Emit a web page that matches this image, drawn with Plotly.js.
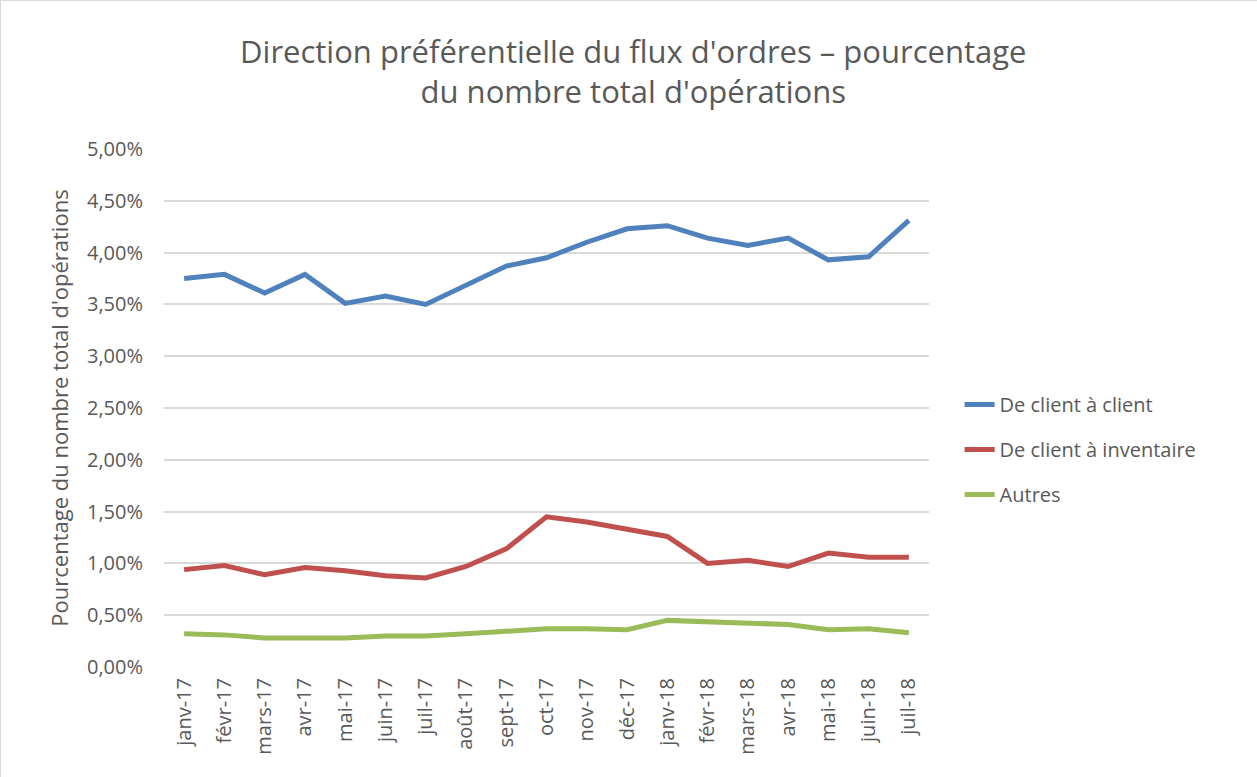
<!DOCTYPE html>
<html>
<head>
<meta charset="utf-8">
<script src="https://cdn.plot.ly/plotly-3.0.1.min.js"></script>
<style>
  html, body { margin: 0; padding: 0; background: #fff; }
  #chart { width: 1257px; height: 777px; box-sizing: border-box; border: 1px solid #d9d9d9; }
</style>
</head>
<body>
<div id="chart"></div>
<script>
// mois (axe des catégories)
const mois = [
  "janv-17", "févr-17", "mars-17", "avr-17", "mai-17", "juin-17", "juil-17",
  "août-17", "sept-17", "oct-17", "nov-17", "déc-17", "janv-18", "févr-18",
  "mars-18", "avr-18", "mai-18", "juin-18", "juil-18"
];

// valeurs (fraction du nombre total d'opérations)
const clientClient = [
  0.0375, 0.0379, 0.0361, 0.0379, 0.0351, 0.0358, 0.0350, 0.0368, 0.0387,
  0.0395, 0.0410, 0.0423, 0.0426, 0.0414, 0.0407, 0.0414, 0.0393, 0.0396, 0.0431
];
const clientInventaire = [
  0.0094, 0.0098, 0.0089, 0.0096, 0.0093, 0.0088, 0.0086, 0.0097, 0.0114,
  0.0145, 0.0140, 0.0133, 0.0126, 0.0100, 0.0103, 0.0097, 0.0110, 0.0106, 0.0106
];
const autres = [
  0.0032, 0.0031, 0.0028, 0.0028, 0.0028, 0.0030, 0.0030, 0.0032, 0.0034,
  0.0037, 0.0037, 0.0036, 0.0045, 0.0044, 0.0043, 0.0041, 0.0036, 0.0037, 0.0033
];

const yTicks = [0, 0.005, 0.01, 0.015, 0.02, 0.025, 0.03, 0.035, 0.04, 0.045, 0.05];

const police = "'Open Sans', 'Liberation Sans', sans-serif";
const gris = "#595959";

function serie(y, nom, couleur, groupe) {
  return {
    x: mois,
    y: y,
    type: "scatter",
    mode: "lines",
    name: nom,
    legendgroup: groupe,
    line: { color: couleur, width: 5 },
  };
}

const traces = [
  serie(clientClient, "De client à client", "#4f81bd", "a"),
  serie(clientInventaire, "De client à inventaire", "#c0504d", "b"),
  serie(autres, "Autres", "#9bbb59", "c"),
];

const layout = {
  width: 1257,
  height: 777,
  separators: ", ",
  font: { family: police, color: gris, size: 19 },
  title: {
    text: "Direction préférentielle du flux d'ordres – pourcentage<br>du nombre total d'opérations",
    font: { family: police, size: 31, color: gris },
    x: 0.503,
    xanchor: "center",
    y: 0.92,
    yanchor: "middle",
  },
  margin: { l: 163, r: 329, t: 148, b: 111 },
  xaxis: {
    type: "category",
    tickangle: -90,
    showgrid: false,
    showline: false,
    ticks: "",
    ticklabelstandoff: 6,
    tickfont: { size: 20, color: gris },
    range: [-0.5, mois.length - 0.5],
  },
  yaxis: {
    range: [0, 0.05],
    tickvals: yTicks,
    tickformat: ".2%",
    gridcolor: "#d9d9d9",
    gridwidth: 1.5,
    zeroline: false,
    showline: false,
    ticks: "",
    ticklen: 0,
    ticklabelstandoff: 20,
    tickfont: { size: 20, color: gris },
    title: {
      text: "Pourcentage du nombre total d'opérations",
      font: { size: 22, color: gris },
      standoff: 12,
    },
  },
  showlegend: true,
  legend: {
    x: 1.04,
    xanchor: "left",
    y: 0.42,
    yanchor: "middle",
    font: { size: 20, color: gris },
    tracegroupgap: 16,
  },
  plot_bgcolor: "#fff",
  paper_bgcolor: "#fff",
};

Plotly.newPlot("chart", traces, layout, { displayModeBar: false, responsive: false });
</script>
</body>
</html>
